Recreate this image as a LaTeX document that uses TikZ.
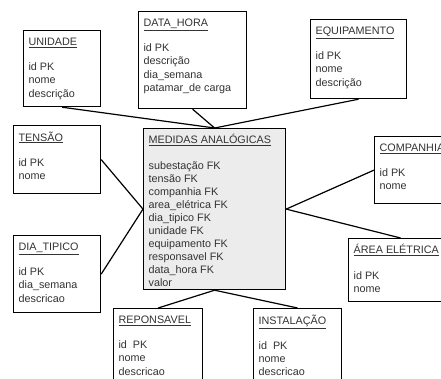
\documentclass[tikz,border=0pt]{standalone}
\usepackage{fontspec}
\setmainfont{Liberation Sans}
\usetikzlibrary{positioning}
\tikzset{
  every picture/.style={line width=1.2pt},
  tabela/.style={draw,rectangle,anchor=north west,inner xsep=5pt,inner ysep=6pt,fill=white,text=black!80,
    font=\fontsize{10.8}{13.1}\selectfont},
  fato/.style={tabela,fill=gray!15},
  liga/.style={line width=1.2pt},
}
% caixa{largura}{altura}{titulo}{campos}
\newcommand{\caixa}[4]{\parbox[t][#2][t]{#1}{\strut\underline{#3}\\[12pt]#4}}

\begin{document}
\begin{tikzpicture}[x=1pt,y=-1pt]
\useasboundingbox (0,0) rectangle (441,378);
\clip (0,0) rectangle (441,378);
% tabela fato
\node[fato] (medidas) at (143,128) {\caixa{132pt}{149pt}{MEDIDAS ANALÓGICAS}{subestação FK\\ tensão FK\\ companhia FK\\ area\_elétrica FK\\ dia\_tipico FK\\ unidade FK\\ equipamento FK\\ responsavel FK\\ data\_hora FK\\ valor}};
% dimensoes
\node[tabela] (unidade) at (23,30) {\caixa{67pt}{64pt}{UNIDADE}{id PK\\ nome\\ descrição}};
\node[tabela] (datahora) at (138,11) {\caixa{98pt}{85pt}{DATA\_HORA}{id PK\\ descrição\\ dia\_semana\\ patamar\_de carga}};
\node[tabela] (equipamento) at (310,19) {\caixa{86pt}{67pt}{EQUIPAMENTO}{id PK\\ nome\\ descrição}};
\node[tabela] (tensao) at (13,125) {\caixa{77pt}{56pt}{TENSÃO}{id PK\\ nome}};
\node[tabela] (diatipico) at (13,235) {\caixa{77pt}{65pt}{DIA\_TIPICO}{id PK\\ dia\_semana\\ descricao}};
\node[tabela] (companhia) at (374,136) {\caixa{80pt}{55pt}{COMPANHIA}{id PK\\ nome}};
\node[tabela] (area) at (348,238) {\caixa{94pt}{51pt}{ÁREA ELÉTRICA}{id PK\\ nome}};
\node[tabela] (reponsavel) at (113,308) {\caixa{79pt}{78pt}{REPONSAVEL}{id\ \ PK\\ nome\\ descricao}};
\node[tabela] (instalacao) at (253,308) {\caixa{78pt}{78pt}{INSTALAÇÃO}{id\ \ PK\\ nome\\ descricao}};
% ligacoes
\draw[liga] (unidade.south) -- (medidas.north);
\draw[liga] (datahora.south) -- (medidas.north);
\draw[liga] (equipamento.south) -- (medidas.north);
\draw[liga] (tensao.east) -- (medidas.west);
\draw[liga] (diatipico.east) -- (medidas.west);
\draw[liga] (companhia.west) -- (medidas.east);
\draw[liga] (area.north) -- (medidas.east);
\draw[liga] (reponsavel.north) -- (medidas.south);
\draw[liga] (instalacao.north) -- (medidas.south);
\end{tikzpicture}
\end{document}
